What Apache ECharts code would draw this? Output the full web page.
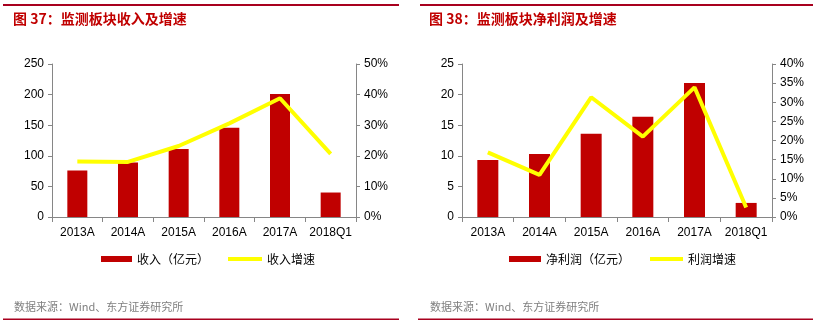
<!DOCTYPE html>
<html>
<head>
<meta charset="utf-8">
<script src="https://cdn.jsdelivr.net/npm/echarts@6/dist/echarts.min.js"></script>
<style>
html,body{margin:0;padding:0;background:#fff;}
#c{width:820px;height:328px;}
</style>
</head>
<body>
<div id="c"></div>
<script>
const categories = ['2013A','2014A','2015A','2016A','2017A','2018Q1'];
const revenue = [76, 89, 111, 146, 201, 40];
const revenueGrowth = [18.1, 18.0, 23.2, 30.6, 38.8, 20.6];
const profit = [9.3, 10.3, 13.6, 16.4, 21.9, 2.3];
const profitGrowth = [16.9, 11.0, 31.3, 21.0, 33.9, 2.5];
const leftTicks1 = {min: 0, max: 250, interval: 50};
const rightTicks1 = {min: 0, max: 50, interval: 10};
const leftTicks2 = {min: 0, max: 25, interval: 5};
const rightTicks2 = {min: 0, max: 40, interval: 5};
const titles = ['图 37：监测板块收入及增速', '图 38：监测板块净利润及增速'];
const names = ['收入（亿元）', '收入增速', '净利润（亿元）', '利润增速'];
const sourceText = '数据来源：Wind、东方证券研究所';

const RED = '#C00000';
const YEL = '#FFFF00';
const AX = '#868686';
const FONT = 'Liberation Sans, Arial, sans-serif';
const CJK = 'Noto Sans CJK SC, sans-serif';

const chart = echarts.init(document.getElementById('c'), null, {renderer: 'canvas'});

function xAx(gi) {
  return {
    type: 'category', gridIndex: gi, data: categories,
    axisLine: {lineStyle: {color: AX, width: 1}},
    axisTick: {show: true, length: 5, lineStyle: {color: AX}},
    axisLabel: {color: '#000', fontSize: 12, fontFamily: FONT, margin: 10, interval: 0},
    splitLine: {show: false}
  };
}
function yAx(gi, t, pos, pct) {
  return Object.assign({
    type: 'value', gridIndex: gi, position: pos,
    axisLine: {show: true, lineStyle: {color: AX, width: 1}},
    axisTick: {show: true, length: 4, lineStyle: {color: AX}},
    axisLabel: {color: '#000', fontSize: 12, fontFamily: FONT, margin: 8,
      formatter: pct ? '{value}%' : '{value}'},
    splitLine: {show: false}
  }, t);
}
function legendItem(name, left, w, h) {
  return {
    data: [{name: name, icon: 'rect'}], left: left, top: 253, padding: 0,
    itemWidth: w, itemHeight: h, itemGap: 0,
    textStyle: {fontSize: 12, fontFamily: CJK, color: '#000'},
    selectedMode: false
  };
}

chart.setOption({
  animation: false,
  backgroundColor: '#fff',
  title: [
    {text: titles[0], left: 13, top: 12, padding: 0, textStyle: {color: RED, fontSize: 14, fontWeight: 'bold', fontFamily: CJK}},
    {text: titles[1], left: 429, top: 12, padding: 0, textStyle: {color: RED, fontSize: 14, fontWeight: 'bold', fontFamily: CJK}}
  ],
  grid: [
    {left: 52, right: 464, top: 64, bottom: 111},
    {left: 462, right: 48, top: 64, bottom: 111}
  ],
  xAxis: [xAx(0), xAx(1)],
  yAxis: [
    yAx(0, leftTicks1, 'left', false),
    yAx(0, rightTicks1, 'right', true),
    yAx(1, leftTicks2, 'left', false),
    yAx(1, rightTicks2, 'right', true)
  ],
  legend: [
    legendItem(names[0], 101, 31, 6),
    legendItem(names[1], 228, 34, 4),
    legendItem(names[2], 509, 32, 6),
    legendItem(names[3], 650, 33, 4)
  ],
  series: [
    {name: names[0], type: 'bar', xAxisIndex: 0, yAxisIndex: 0, data: revenue, barWidth: 20, itemStyle: {color: RED}},
    {name: names[1], type: 'line', xAxisIndex: 0, yAxisIndex: 1, data: revenueGrowth, symbol: 'none', lineStyle: {color: YEL, width: 4}, itemStyle: {color: YEL}},
    {name: names[2], type: 'bar', xAxisIndex: 1, yAxisIndex: 2, data: profit, barWidth: 21, itemStyle: {color: RED}},
    {name: names[3], type: 'line', xAxisIndex: 1, yAxisIndex: 3, data: profitGrowth, symbol: 'none', lineStyle: {color: YEL, width: 4}, itemStyle: {color: YEL}}
  ],
  graphic: [
    {type: 'rect', shape: {x: 3, y: 4, width: 396, height: 2}, style: {fill: '#A8001E'}},
    {type: 'rect', shape: {x: 420, y: 4, width: 393, height: 2}, style: {fill: '#A8001E'}},
    {type: 'rect', shape: {x: 3, y: 318.5, width: 396, height: 1.5}, style: {fill: '#A8001E'}},
    {type: 'rect', shape: {x: 418, y: 318.5, width: 395, height: 1.5}, style: {fill: '#A8001E'}},
    {type: 'text', left: 14, top: 301, style: {text: sourceText, fill: '#7F7F7F', fontSize: 11, fontFamily: CJK}},
    {type: 'text', left: 430, top: 301, style: {text: sourceText, fill: '#7F7F7F', fontSize: 11, fontFamily: CJK}}
  ]
});
</script>
</body>
</html>
